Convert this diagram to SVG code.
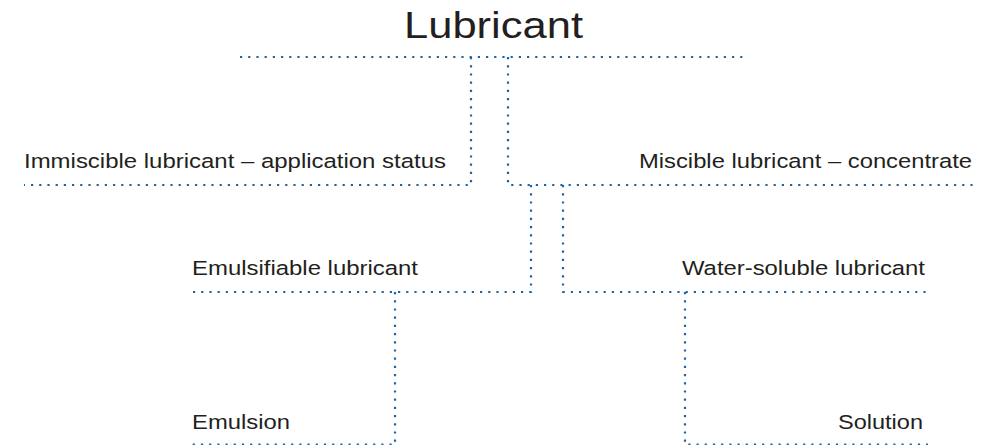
<svg xmlns="http://www.w3.org/2000/svg" width="996" height="445" viewBox="0 0 996 445">
<style>
.t{font-family:"Liberation Sans",Arial,sans-serif;fill:#231f20;font-size:20.5px}
.h{font-size:37px}
.d{stroke:#1b64a8;stroke-width:2.2;stroke-dasharray:2.2 6;fill:none}
</style>
<rect width="996" height="445" fill="#fff"/>
<g id="lubricant"><text class="t h" x="404" y="38" textLength="179" lengthAdjust="spacingAndGlyphs">Lubricant</text></g>
<g id="immiscible"><text class="t" x="24" y="168" textLength="422" lengthAdjust="spacingAndGlyphs">Immiscible lubricant – application status</text></g>
<g id="miscible"><text class="t" x="639" y="168" textLength="333" lengthAdjust="spacingAndGlyphs">Miscible lubricant – concentrate</text></g>
<g id="emulsifiable"><text class="t" x="192" y="275" textLength="226" lengthAdjust="spacingAndGlyphs">Emulsifiable lubricant</text></g>
<g id="watersoluble"><text class="t" x="682" y="275" textLength="243" lengthAdjust="spacingAndGlyphs">Water-soluble lubricant</text></g>
<g id="emulsion"><text class="t" x="192" y="429" textLength="98" lengthAdjust="spacingAndGlyphs">Emulsion</text></g>
<g id="solution"><text class="t" x="838" y="429" textLength="85" lengthAdjust="spacingAndGlyphs">Solution</text></g>
<g id="connectors">
<path class="d" d="M240 57H744"/>
<path class="d" d="M471 57V185H24"/>
<path class="d" d="M508 57V185H976"/>
<path class="d" d="M531 185V292H191"/>
<path class="d" d="M563 185V292H928"/>
<path class="d" d="M395 292V444.5H191"/>
<path class="d" d="M685 292V444.5H928"/>
</g>
</svg>
